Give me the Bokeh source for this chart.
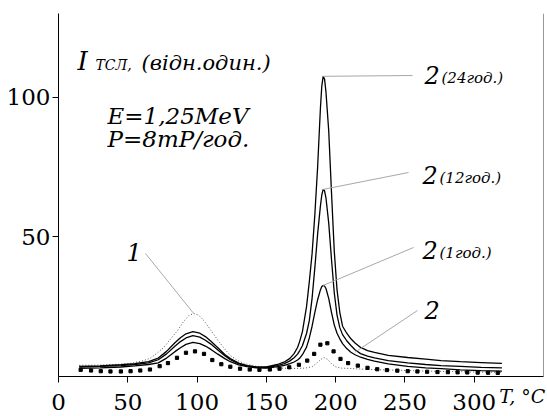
from bokeh.plotting import figure
from bokeh.models import Range1d, FixedTicker, Label, Span
from bokeh.embed import file_html
from bokeh.resources import INLINE

# ---------------- data ----------------
T_solid = [15, 30, 45, 55, 65, 72, 78, 84, 88, 92,
           97, 102, 106, 110, 115, 120, 124, 130, 136, 143,
           150, 158, 163, 167, 170, 172.5, 174, 176, 179, 181,
           183, 185, 187, 189, 190, 191, 192, 193, 195, 197, 199, 201,
           203, 205, 208, 211, 214, 218, 223, 228, 238, 252,
           265, 276, 290, 305, 320]

I_24h = [3.6, 3.8, 4.2, 4.6, 5.3, 6.6, 9.0, 12.1, 13.9, 15.3,
         16.1, 15.5, 14.3, 12.6, 10.3, 7.9, 6.4, 4.8, 3.9, 3.4,
         3.4, 4.3, 5.2, 6.5, 8.2, 10.4, 12.5, 16.0, 25, 34,
         44, 58, 75, 96, 104, 107.5, 106.5, 102, 88, 66, 45, 31,
         23, 18, 15.5, 13.5, 12.0, 10.4, 9.3, 8.6, 7.6, 6.8,
         6.2, 5.7, 5.3, 5.0, 4.7]

I_12h = [3.4, 3.6, 3.9, 4.3, 4.9, 6.0, 8.1, 10.8, 12.5, 13.8,
         14.6, 14.1, 13.0, 11.6, 9.5, 7.4, 6.0, 4.6, 3.8, 3.3,
         3.2, 3.9, 4.6, 5.6, 6.7, 8.0, 9.2, 11.0, 15.4, 20,
         28, 39, 51, 61, 65, 67, 66.5, 64, 55, 42, 30, 22,
         17.5, 15.0, 12.8, 11.1, 9.6, 8.2, 7.3, 6.7, 5.7, 4.9,
         4.3, 3.9, 3.6, 3.3, 3.1]

I_1h = [2.9, 3.1, 3.4, 3.8, 4.3, 4.9, 6.6, 8.9, 10.3, 11.5,
        12.2, 11.8, 10.9, 9.7, 8.0, 6.4, 5.3, 4.2, 3.5, 3.1,
        3.0, 3.5, 4.0, 4.6, 5.2, 5.9, 6.5, 7.8, 10.5, 13.8,
        18, 23, 27.5, 31, 32.2, 32.6, 32.4, 31.5, 28, 23, 18.5, 15.5,
        13.5, 11.8, 10.0, 8.7, 7.8, 6.9, 6.1, 5.5, 4.5, 3.6,
        3.1, 2.8, 2.4, 2.1, 1.9]

T_1 = [15, 30, 45, 52, 60, 66, 71, 76, 81, 86,
       90, 94, 97.5, 101, 105, 110, 115, 120, 124, 129,
       134, 142, 150, 160, 170, 178, 183, 186, 189, 191.5,
       194, 197, 200, 204, 210, 220, 240, 260, 280, 300, 320]
I_1 = [4.0, 4.1, 4.4, 4.7, 5.5, 6.5, 8.3, 10.4, 13.5, 16.5,
       19.5, 21.8, 22.6, 22.0, 20.0, 16.5, 13.0, 9.8, 7.5, 5.8,
       4.6, 3.7, 3.4, 3.0, 2.9, 3.0, 3.5, 4.6, 6.0, 6.8,
       6.2, 4.6, 3.5, 3.0, 2.9, 2.6, 2.3, 2.0, 1.8, 1.6, 1.5]

T_2 = [16, 23.5, 30.5, 37.5, 45, 52, 59, 66, 73, 79,
       85.5, 92, 98.5, 105, 111, 117.5, 124, 131, 138, 145,
       152.5, 159.5, 166.5, 173.5, 179.5, 184.5, 189, 194, 198.5, 203.5,
       209, 216, 223, 230, 237, 244.5, 252, 259, 266, 273.5,
       281, 288, 295, 302.5, 310, 317]
I_2 = [2.4, 2.15, 1.9, 1.8, 1.8, 1.9, 2.15, 2.5, 3.7, 4.8,
       6.7, 8.5, 9.0, 8.1, 5.9, 4.4, 3.5, 2.8, 2.5, 2.4,
       2.5, 2.8, 3.3, 4.2, 5.7, 8.1, 11.4, 11.9, 9.0, 6.3,
       4.8, 3.9, 3.1, 2.6, 2.3, 2.1, 1.9, 1.8, 1.7, 1.6,
       1.55, 1.5, 1.45, 1.4, 1.35, 1.3]

x_ticks = [0, 50, 100, 150, 200, 250, 300]
y_ticks = [50, 100]
x_unit = "T, °C"

# ---------------- figure ----------------
X0, X1, Y0, Y1 = 0, 350, 0, 130
W, H = 547, 416
BL, BR, BT, BB = 58, 4, 13, 40

p = figure(width=W, height=H, output_backend="svg", toolbar_location=None,
           x_range=Range1d(X0, X1), y_range=Range1d(Y0, Y1),
           min_border_left=BL, min_border_right=BR,
           min_border_top=BT, min_border_bottom=BB)
p.background_fill_color = "white"
p.border_fill_color = "white"
p.outline_line_color = None
p.xgrid.visible = False
p.ygrid.visible = False

SERIF = "DejaVu Serif"

for ax in (p.xaxis[0], p.yaxis[0]):
    ax.axis_line_color = "black"
    ax.axis_line_width = 1
    ax.major_tick_line_color = "black"
    ax.major_tick_out = 6
    ax.major_tick_in = 0
    ax.minor_tick_line_color = None
    ax.major_label_text_font = SERIF
    ax.major_label_text_font_size = "23px"
    ax.major_label_text_color = "black"
p.xaxis[0].ticker = FixedTicker(ticks=x_ticks)
p.yaxis[0].ticker = FixedTicker(ticks=y_ticks)
p.xaxis[0].major_label_standoff = 11
p.yaxis[0].major_label_standoff = 2

# axis unit: centred on the frame's right end, so pad it on the right with
# non-breaking spaces to keep the visible text inside the picture
xa = p.xaxis[0]
xa.axis_label = x_unit + "\u00a0" * 7
xa.axis_label_text_font = SERIF
xa.axis_label_text_font_size = "19px"
xa.axis_label_text_font_style = "italic"
xa.axis_label_text_color = "black"
xa.axis_label_align = "end"
xa.axis_label_standoff = -28

frame_w = W - BL - BR
frame_h = H - BT - BB


def dx(px):
    return X0 + (px - BL) / frame_w * (X1 - X0)


def dy(py):
    return Y0 + (BT + frame_h - py) / frame_h * (Y1 - Y0)


# right frame border
p.add_layout(Span(location=X1, dimension="height", line_color="#333333", line_width=1))

# curves
p.line(T_1, I_1, line_color="#555555", line_width=1, line_dash="1 2")
p.line(T_solid, I_24h, line_color="black", line_width=1.3)
p.line(T_solid, I_12h, line_color="black", line_width=1.3)
p.line(T_solid, I_1h, line_color="black", line_width=1.3)
p.scatter(T_2, I_2, marker="square", size=3.2, fill_color="black", line_color="black")

# leader lines (start at the curve peaks)
def peak(ts, vs):
    i = max(range(len(vs)), key=lambda k: vs[k])
    return ts[i], vs[i]

GRAY = "#a8a8a8"
t24, v24 = peak(T_solid, I_24h)
t12, v12 = peak(T_solid, I_12h)
t1h, v1h = peak(T_solid, I_1h)
i1 = max(range(20), key=lambda k: I_1[k])
tp1, vp1 = T_1[i1], I_1[i1]
i_tail = T_solid.index(214)
p.segment(x0=[t24, t12, t1h, T_solid[i_tail], tp1],
          y0=[v24, v12, v1h, (I_12h[i_tail] + I_1h[i_tail]) / 2, vp1],
          x1=[dx(412), dx(408), dx(413), dx(417), dx(145)],
          y1=[dy(75), dy(172), dy(247), dy(310), dy(253)],
          line_color=GRAY, line_width=1)


def lab(px, base_py, text, size, style="italic"):
    # text is centred vertically; shift from the baseline by half a cap height
    cy = base_py - 0.36 * size
    p.add_layout(Label(x=dx(px), y=dy(cy), text=text, text_font=SERIF,
                       text_font_size=f"{size}px", text_font_style=style,
                       text_color="black", text_baseline="middle",
                       text_align="left"))


# title block
lab(77, 70, "I", 26)
lab(95, 70, "ТСЛ,", 14)
lab(141, 70, "(відн.один.)", 21)
lab(107, 124, "E=1,25MeV", 23)
lab(107, 147, "P=8mP/год.", 23)

# curve labels
lab(424, 83, "2", 24)
lab(441, 83, "(24год.)", 15)
lab(422, 183, "2", 24)
lab(439, 183, "(12год.)", 15)
lab(422, 258, "2", 24)
lab(439, 258, "(1год.)", 15)
lab(424, 318, "2", 24)
lab(126, 260, "1", 24)

open("out.html", "w").write(file_html(p, INLINE))
